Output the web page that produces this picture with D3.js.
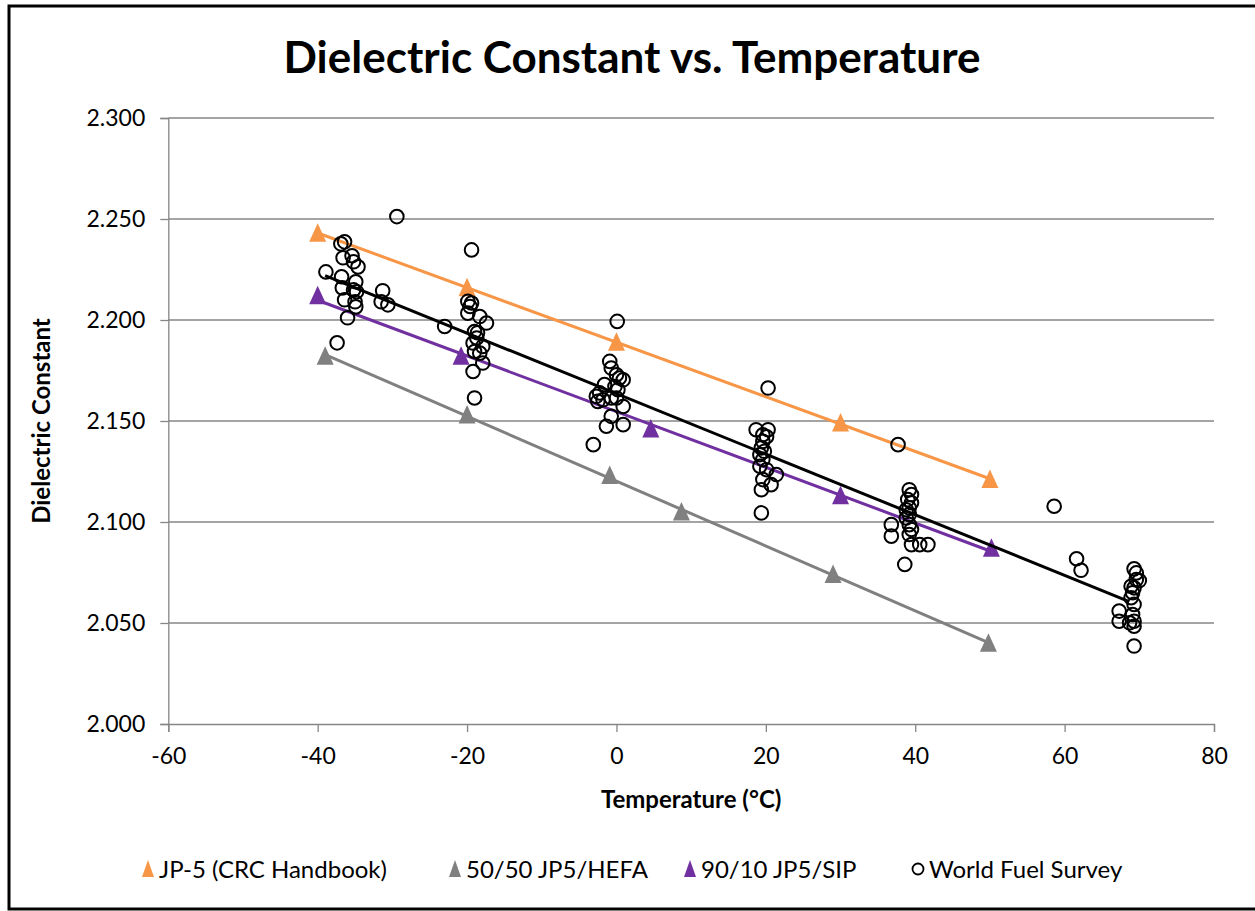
<!DOCTYPE html>
<html>
<head>
<meta charset="utf-8">
<script src="https://cdn.jsdelivr.net/npm/d3@7"></script>
<style>
  body { margin: 0; background: #fff; }
  svg { display: block; font-family: Lato, "Open Sans", sans-serif; }
</style>
</head>
<body>
<div id="chart"></div>
<script>
// ---- data ----
var jp5Temp   = [-40, -20, 0, 30, 50]
var jp5Dc     = [2.243, 2.216, 2.189, 2.149, 2.121]

var hefaTemp  = [-39, -20, -0.9, 8.7, 29, 49.8]
var hefaDc    = [2.182, 2.153, 2.123, 2.105, 2.074, 2.040]

var sipTemp   = [-40, -20.8, 4.6, 30, 50.2]
var sipDc     = [2.212, 2.182, 2.146, 2.113, 2.087]

// World Fuel Survey scatter
var wfsTemp = [
  -29.4, -36.9, -36.4, -36.6, -35.4, -35.2, -34.6, -38.9, -36.8, -34.9, -36.7, -35.2, -31.3,
  -36.4, -35.0, -31.5, -30.6, -34.9, -36.0, -37.4, -34.8,
  -19.4, -23.0, -19.9, -19.4, -19.6, -19.9, -18.3, -17.4, -19.0, -18.7, -19.2, -17.9, -19.0,
  -18.3, -17.9, -19.2, -19.0, -18.6,
  0.1, -0.9, -0.7, 0.0, 0.4, 0.9, -1.6, -0.2, 0.2, -2.25, -2.7, -1.8, -0.7, 0.0, 0.9, -2.5,
  -0.7, -1.35, 0.9, -3.1,
  20.3, 18.7, 20.3, 19.6, 19.6, 19.4, 19.2, 19.6, 19.2, 20.1, 21.4, 19.6, 20.7, 19.4, 19.4,
  20.1, 19.8,
  37.7, 39.2, 39.5, 39.0, 39.5, 39.2, 38.8, 39.2, 38.8, 36.8, 39.2, 39.5, 36.8, 39.2, 39.5,
  40.6, 41.7, 38.6,
  58.6, 61.6, 62.2, 69.3, 69.6, 69.6, 68.9, 69.3, 69.1, 68.9, 69.3, 67.3, 69.1, 67.3, 69.3,
  68.7, 69.3, 69.3, 70.0
]
var wfsDc = [
  2.2512, 2.2377, 2.2387, 2.2308, 2.2318, 2.2288, 2.2263, 2.2238, 2.2214, 2.2189, 2.2159, 2.2149, 2.2145,
  2.2100, 2.2090, 2.2090, 2.2075, 2.2065, 2.2011, 2.1887, 2.2140,
  2.2347, 2.1968, 2.2092, 2.2084, 2.2067, 2.2034, 2.2017, 2.1985, 2.1943, 2.1911, 2.1886, 2.1869, 2.1844,
  2.1836, 2.1787, 2.1745, 2.1614, 2.1937,
  2.1993, 2.1795, 2.1762, 2.1729, 2.1713, 2.1704, 2.1680, 2.1671, 2.1655, 2.1639, 2.1622, 2.1605, 2.1614, 2.1614, 2.1572, 2.1597,
  2.1523, 2.1474, 2.1482, 2.1383,
  2.1663, 2.1457, 2.1457, 2.1432, 2.1399, 2.1367, 2.1333, 2.1309, 2.1276, 2.1259, 2.1235, 2.1210, 2.1185, 2.1160, 2.1045,
  2.1422, 2.1350,
  2.1383, 2.1160, 2.1136, 2.1111, 2.1095, 2.1070, 2.1061, 2.1037, 2.1020, 2.0987, 2.0987, 2.0963, 2.0930, 2.0938, 2.0888,
  2.0888, 2.0888, 2.0790,
  2.1078, 2.0818, 2.0761, 2.0768, 2.0748, 2.0715, 2.0682, 2.0674, 2.0650, 2.0625, 2.0592, 2.0559, 2.0542, 2.0509, 2.0509,
  2.0501, 2.0484, 2.0386, 2.0710
]
// black trend line for the survey (end points)
var wfsTrendTemp = [-39, 68.65]
var wfsTrendDc   = [2.222, 2.0606]

var xTicks = [-60, -40, -20, 0, 20, 40, 60, 80]
var yTicks = [2.000, 2.050, 2.100, 2.150, 2.200, 2.250, 2.300]

var seriesNames = ["JP-5 (CRC Handbook)", "50/50 JP5/HEFA", "90/10 JP5/SIP", "World Fuel Survey"]
var seriesColours = ["#f79646", "#808080", "#7030a0", "#000000"]

// ---- layout ----
var W = 1255, H = 911
var plot = {left: 168.3, right: 1214, top: 118, bottom: 724}

var svg = d3.select("#chart").append("svg")
    .attr("width", W)
    .attr("height", H)

// outer frame
svg.append("rect")
    .attr("x", 9).attr("y", 6)
    .attr("width", 1270).attr("height", 903)
    .attr("fill", "none")
    .attr("stroke", "#000")
    .attr("stroke-width", 3)

var x = d3.scaleLinear().domain([-60, 80]).range([plot.left, plot.right])
var y = d3.scaleLinear().domain([2.0, 2.3]).range([plot.bottom, plot.top])

// gridlines
svg.append("g")
    .selectAll("line")
    .data(yTicks.slice(1))
    .enter()
    .append("line")
    .attr("x1", plot.left).attr("x2", plot.right)
    .attr("y1", function(d) { return y(d) })
    .attr("y2", function(d) { return y(d) })
    .attr("stroke", "#868686")
    .attr("stroke-width", 1.3)

// y axis
var yAxis = svg.append("g")
    .attr("transform", "translate(" + plot.left + ",0)")
    .call(d3.axisLeft(y).tickValues(yTicks).tickFormat(d3.format(".3f")).tickSize(8).tickPadding(15))
yAxis.select(".domain").attr("stroke", "#868686").attr("stroke-width", 1.3)
yAxis.selectAll(".tick line").attr("stroke", "#868686").attr("stroke-width", 1.3)
yAxis.selectAll("text").attr("font-size", 23).attr("fill", "#000")
    .style("font-family", "Lato, sans-serif")

// x axis (plain hyphen for negatives, like the original)
var xAxis = svg.append("g")
    .attr("transform", "translate(0," + plot.bottom + ")")
    .call(d3.axisBottom(x).tickValues(xTicks).tickFormat(function(d) { return String(d) })
        .tickSize(8).tickPadding(16))
xAxis.select(".domain").attr("stroke", "#868686").attr("stroke-width", 1.3)
xAxis.selectAll(".tick line").attr("stroke", "#868686").attr("stroke-width", 1.3)
xAxis.selectAll("text").attr("font-size", 23).attr("fill", "#000")
    .style("font-family", "Lato, sans-serif")

// titles
svg.append("text")
    .attr("x", 632).attr("y", 73)
    .attr("text-anchor", "middle")
    .attr("font-size", 44).attr("font-weight", "bold")
    .text("Dielectric Constant vs. Temperature")

svg.append("text")
    .attr("x", (plot.left + plot.right) / 2).attr("y", 808)
    .attr("text-anchor", "middle")
    .attr("font-size", 24).attr("font-weight", "bold")
    .text("Temperature (°C)")

svg.append("text")
    .attr("transform", "translate(50," + ((plot.top + plot.bottom) / 2) + ") rotate(-90)")
    .attr("text-anchor", "middle")
    .attr("font-size", 24).attr("font-weight", "bold")
    .text("Dielectric Constant")

// helpers
function zip(a, b) {
    return a.map(function(v, i) { return [v, b[i]] })
}

function fitLine(xs, ys) {
    var mx = d3.mean(xs), my = d3.mean(ys)
    var num = d3.sum(xs, function(v, i) { return (v - mx) * (ys[i] - my) })
    var den = d3.sum(xs, function(v) { return (v - mx) * (v - mx) })
    var m = num / den, b = my - m * mx
    var ext = d3.extent(xs)
    return [[ext[0], m * ext[0] + b], [ext[1], m * ext[1] + b]]
}

function triPath(cx, cy) {
    return "M" + cx + "," + (cy - 10) + "L" + (cx + 8.5) + "," + (cy + 8.5) + "L" + (cx - 8.5) + "," + (cy + 8.5) + "Z"
}

var line = d3.line()
    .x(function(d) { return x(d[0]) })
    .y(function(d) { return y(d[1]) })

var triSeries = [
    {temp: jp5Temp, dc: jp5Dc, colour: seriesColours[0]},
    {temp: hefaTemp, dc: hefaDc, colour: seriesColours[1]},
    {temp: sipTemp, dc: sipDc, colour: seriesColours[2]}
]

triSeries.forEach(function(s) {
    var g = svg.append("g")
    g.append("path")
        .attr("d", line(fitLine(s.temp, s.dc)))
        .attr("fill", "none")
        .attr("stroke", s.colour)
        .attr("stroke-width", 3)
    g.selectAll("path.mark")
        .data(zip(s.temp, s.dc))
        .enter()
        .append("path")
        .attr("class", "mark")
        .attr("d", function(d) { return triPath(x(d[0]), y(d[1])) })
        .attr("fill", s.colour)
})

// world fuel survey
svg.append("g")
    .selectAll("circle")
    .data(zip(wfsTemp, wfsDc))
    .enter()
    .append("circle")
    .attr("cx", function(d) { return x(d[0]) })
    .attr("cy", function(d) { return y(d[1]) })
    .attr("r", 6.8)
    .attr("fill", "none")
    .attr("stroke", "#000")
    .attr("stroke-width", 2)

svg.append("path")
    .attr("d", line(zip(wfsTrendTemp, wfsTrendDc)))
    .attr("fill", "none")
    .attr("stroke", "#000")
    .attr("stroke-width", 3)

// legend
var legendX = [148, 455, 690, 918]
var legendY = 869
var leg = svg.append("g")
seriesNames.forEach(function(name, i) {
    if (i < 3) {
        leg.append("path")
            .attr("d", "M" + legendX[i] + "," + (legendY - 9) + "L" + (legendX[i] + 6) + "," + (legendY + 8) + "L" + (legendX[i] - 6) + "," + (legendY + 8) + "Z")
            .attr("fill", seriesColours[i])
    } else {
        leg.append("circle")
            .attr("cx", legendX[i]).attr("cy", legendY)
            .attr("r", 5.5)
            .attr("fill", "none")
            .attr("stroke", "#000")
            .attr("stroke-width", 1.8)
    }
    leg.append("text")
        .attr("x", legendX[i] + 11).attr("y", legendY + 8.5)
        .attr("font-size", 24)
        .text(name)
})
</script>
</body>
</html>
